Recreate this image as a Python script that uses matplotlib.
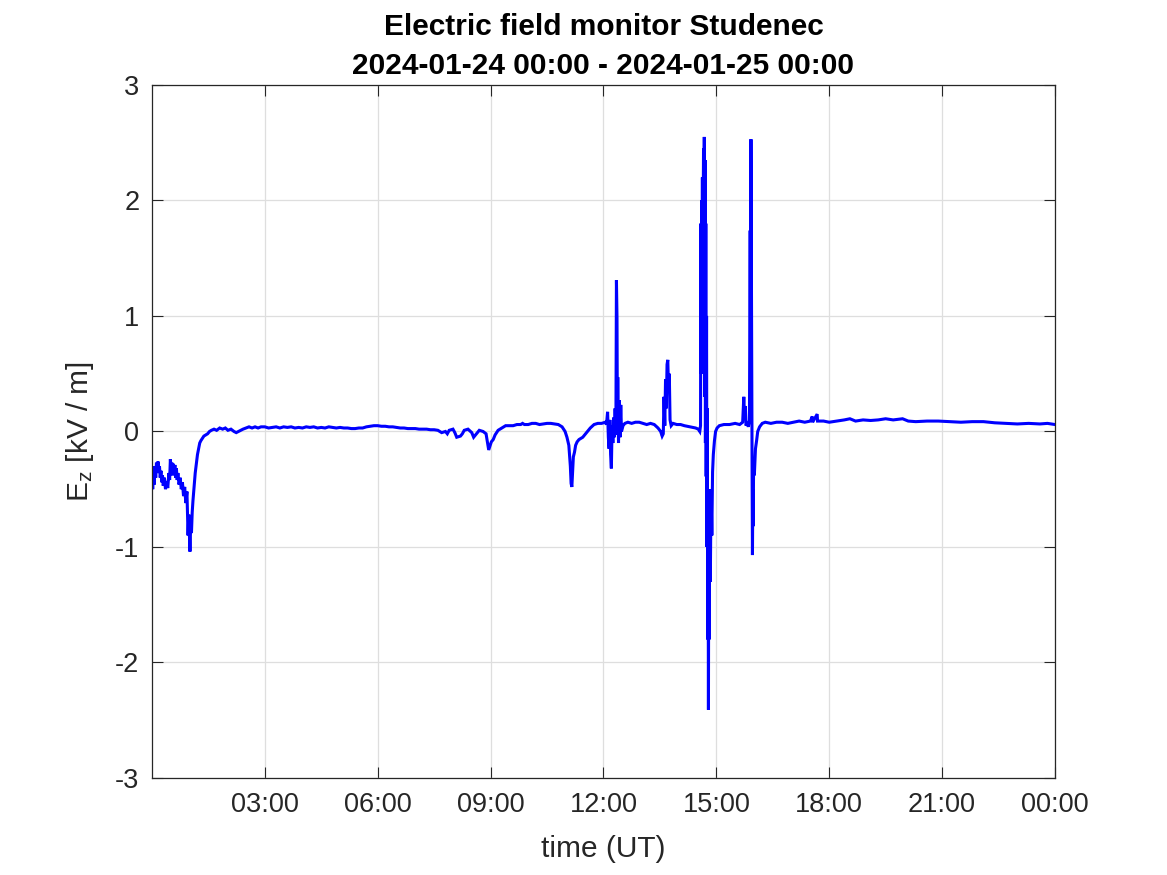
import matplotlib
matplotlib.use("Agg")
import matplotlib.pyplot as plt

plt.rcParams['font.family'] = ['Liberation Sans', 'DejaVu Sans']
plt.rcParams['mathtext.fontset'] = 'custom'
plt.rcParams['mathtext.rm'] = 'Liberation Sans'
plt.rcParams['mathtext.it'] = 'Liberation Sans'

title_lines = ["Electric field monitor Studenec", "2024-01-24 00:00 - 2024-01-25 00:00"]
x_label = "time (UT)"
y_label = r"E$_\mathrm{z}$ [kV / m]"
x_ticks = [3, 6, 9, 12, 15, 18, 21, 24]
x_tick_labels = ["03:00", "06:00", "09:00", "12:00", "15:00", "18:00", "21:00", "00:00"]
y_ticks = [-3, -2, -1, 0, 1, 2, 3]

# time in hours (UT) since 2024-01-24 00:00
t_hours = [
    0.00, 0.02, 0.04, 0.06, 0.08, 0.10, 0.12, 0.14, 0.16, 0.18, 0.20, 0.22, 0.24, 0.26, 0.28, 0.30,
    0.33, 0.36, 0.39, 0.42, 0.45, 0.47, 0.49, 0.51, 0.53, 0.55, 0.57, 0.59, 0.61, 0.63, 0.65, 0.67,
    0.69, 0.72, 0.75, 0.78, 0.81, 0.84, 0.87, 0.90, 0.93, 0.96, 0.98, 1.01, 1.03, 1.05, 1.07, 1.09,
    1.11, 1.13, 1.15, 1.18, 1.21, 1.24, 1.27, 1.30, 1.34, 1.38, 1.43, 1.48, 1.53, 1.58, 1.65, 1.72,
    1.80, 1.88, 1.95, 2.02, 2.10, 2.18, 2.24, 2.30, 2.36, 2.42, 2.50, 2.58, 2.66, 2.74, 2.82, 2.90,
    3.00, 3.10, 3.20, 3.30, 3.40, 3.50, 3.60, 3.70, 3.80, 3.90, 4.00, 4.10, 4.20, 4.30, 4.40, 4.50,
    4.60, 4.70, 4.80, 4.90, 5.00, 5.10, 5.20, 5.30, 5.40, 5.50, 5.60, 5.70, 5.80, 5.90, 6.00, 6.10,
    6.20, 6.30, 6.40, 6.50, 6.60, 6.70, 6.80, 6.90, 7.00, 7.10, 7.20, 7.30, 7.40, 7.50, 7.60, 7.70,
    7.80, 7.85, 7.90, 8.00, 8.05, 8.10, 8.20, 8.25, 8.30, 8.40, 8.50, 8.55, 8.60, 8.70, 8.80, 8.88,
    8.92, 8.95, 8.98, 9.02, 9.07, 9.12, 9.20, 9.30, 9.40, 9.50, 9.60, 9.70, 9.80, 9.85, 9.90, 10.00,
    10.10, 10.20, 10.30, 10.40, 10.50, 10.60, 10.70, 10.80, 10.90, 10.98, 11.03, 11.08, 11.12, 11.14, 11.16, 11.18,
    11.20, 11.23, 11.26, 11.30, 11.35, 11.40, 11.45, 11.55, 11.65, 11.75, 11.85, 11.95, 12.05, 12.08, 12.11, 12.13,
    12.15, 12.17, 12.19, 12.21, 12.23, 12.25, 12.27, 12.29, 12.31, 12.33, 12.345, 12.36, 12.37, 12.38, 12.40, 12.42,
    12.44, 12.46, 12.48, 12.52, 12.57, 12.65, 12.75, 12.85, 12.95, 13.05, 13.15, 13.25, 13.35, 13.45, 13.52, 13.56,
    13.59, 13.61, 13.63, 13.65, 13.67, 13.69, 13.71, 13.73, 13.75, 13.77, 13.80, 13.85, 13.95, 14.05, 14.15, 14.30,
    14.45, 14.52, 14.56, 14.58, 14.59, 14.60, 14.61, 14.62, 14.63, 14.64, 14.65, 14.66, 14.67, 14.68, 14.69, 14.70,
    14.71, 14.72, 14.73, 14.74, 14.75, 14.76, 14.77, 14.78, 14.79, 14.80, 14.81, 14.82, 14.84, 14.86, 14.88, 14.90,
    14.92, 14.95, 14.98, 15.02, 15.08, 15.20, 15.35, 15.50, 15.62, 15.70, 15.73, 15.75, 15.77, 15.79, 15.82, 15.85,
    15.88, 15.90, 15.91, 15.92, 15.93, 15.94, 15.95, 15.96, 15.97, 15.98, 15.99, 16.01, 16.04, 16.07, 16.10, 16.15,
    16.22, 16.30, 16.45, 16.60, 16.75, 16.90, 17.05, 17.20, 17.35, 17.50, 17.55, 17.56, 17.68, 17.69, 17.85, 18.00,
    18.20, 18.40, 18.55, 18.70, 18.90, 19.10, 19.30, 19.50, 19.70, 19.95, 20.10, 20.30, 20.60, 20.90, 21.20, 21.50,
    21.80, 22.10, 22.40, 22.70, 23.00, 23.30, 23.60, 23.80, 24.00,
]

# vertical electric field in kV/m
ez_kv = [
    -0.38, -0.50, -0.36, -0.46, -0.30, -0.40, -0.27, -0.36, -0.26, -0.34, -0.30, -0.40, -0.34, -0.44, -0.38, -0.47,
    -0.40, -0.50, -0.43, -0.49, -0.36, -0.42, -0.24, -0.33, -0.27, -0.38, -0.28, -0.36, -0.29, -0.40, -0.32, -0.42,
    -0.36, -0.46, -0.40, -0.50, -0.44, -0.56, -0.48, -0.62, -0.52, -0.90, -0.72, -1.04, -0.80, -0.88, -0.70, -0.60,
    -0.52, -0.44, -0.36, -0.28, -0.20, -0.15, -0.10, -0.08, -0.06, -0.04, -0.03, -0.02, 0.00, 0.01, 0.02, 0.01,
    0.03, 0.02, 0.03, 0.01, 0.02, 0.00, -0.01, 0.00, 0.01, 0.02, 0.03, 0.04, 0.03, 0.04, 0.03, 0.04,
    0.04, 0.03, 0.035, 0.04, 0.03, 0.04, 0.035, 0.04, 0.03, 0.035, 0.03, 0.04, 0.035, 0.04, 0.03, 0.035,
    0.03, 0.04, 0.035, 0.03, 0.035, 0.03, 0.03, 0.025, 0.025, 0.03, 0.03, 0.04, 0.045, 0.05, 0.05, 0.045,
    0.045, 0.04, 0.04, 0.035, 0.03, 0.03, 0.025, 0.025, 0.025, 0.02, 0.02, 0.02, 0.015, 0.015, 0.01, -0.01,
    0.00, -0.02, 0.01, 0.02, -0.01, -0.05, -0.04, -0.02, 0.01, 0.02, -0.01, -0.05, -0.03, 0.01, 0.00, -0.02,
    -0.10, -0.16, -0.13, -0.09, -0.07, -0.03, 0.01, 0.03, 0.05, 0.05, 0.05, 0.06, 0.06, 0.07, 0.06, 0.06,
    0.07, 0.07, 0.06, 0.065, 0.07, 0.07, 0.065, 0.06, 0.04, 0.00, -0.05, -0.12, -0.30, -0.45, -0.48, -0.35,
    -0.22, -0.18, -0.12, -0.09, -0.07, -0.06, -0.05, -0.01, 0.03, 0.06, 0.07, 0.07, 0.08, 0.06, 0.17, -0.05,
    -0.15, 0.10, -0.20, -0.32, 0.05, -0.10, 0.12, -0.05, 0.20, -0.03, 1.31, 0.98, 0.10, 0.47, -0.10, 0.27,
    -0.05, 0.23, 0.00, 0.05, 0.07, 0.08, 0.07, 0.08, 0.08, 0.07, 0.06, 0.07, 0.06, 0.03, 0.00, -0.04,
    -0.02, 0.30, 0.05, 0.45, 0.20, 0.58, 0.62, 0.35, 0.50, 0.10, 0.05, 0.07, 0.06, 0.06, 0.05, 0.04,
    0.03, 0.02, 0.00, 0.05, 1.80, 0.50, 2.00, 1.20, 2.20, 0.60, 1.90, 2.45, 1.00, 2.55, 0.30, 2.35,
    -0.10, 1.80, -0.39, 1.00, -1.00, 0.20, -1.80, -0.50, -2.41, -0.70, -1.80, -0.60, -1.30, -0.50, -0.90, -0.35,
    -0.20, -0.08, 0.00, 0.03, 0.05, 0.06, 0.06, 0.07, 0.06, 0.08, 0.30, 0.12, 0.22, 0.05, 0.08, 0.04,
    0.10, 1.74, 0.60, 2.53, 1.50, 0.59, -0.30, -1.07, -0.50, -0.82, -0.30, -0.38, -0.15, -0.08, 0.00, 0.04,
    0.07, 0.08, 0.07, 0.08, 0.08, 0.07, 0.08, 0.09, 0.08, 0.09, 0.13, 0.08, 0.15, 0.09, 0.09, 0.08,
    0.09, 0.10, 0.11, 0.09, 0.10, 0.095, 0.10, 0.11, 0.10, 0.11, 0.09, 0.085, 0.09, 0.09, 0.085, 0.08,
    0.085, 0.085, 0.075, 0.07, 0.065, 0.07, 0.065, 0.07, 0.06,
]

fig = plt.figure(figsize=(11.67, 8.75), dpi=100)
ax = fig.add_axes([0.1302, 0.1109, 0.7738, 0.7920])
ax.plot(t_hours, ez_kv, color=(0, 0, 1), linewidth=2.2, solid_joinstyle='miter')

ax.set_xlim(0, 24)
ax.set_ylim(-3, 3)
ax.set_xticks(x_ticks)
ax.set_xticklabels(x_tick_labels)
ax.set_yticks(y_ticks)
ax.set_yticklabels([str(v) for v in y_ticks])
ax.tick_params(direction='in', length=8, width=0.8, top=True, right=True,
               labelsize=19.5, colors='#262626', pad=10)
ax.tick_params(axis='y', pad=9)
ax.grid(True, color='#dedede', linewidth=0.9)
ax.set_axisbelow(True)
for s in ax.spines.values():
    s.set_color('#262626')
    s.set_linewidth(0.9)

ax.set_xlabel(x_label, fontsize=21.5, color='#262626', labelpad=12)
ax.set_ylabel(y_label, fontsize=21.5, color='#262626', labelpad=14)
ax.set_title("\n".join(title_lines), fontsize=21.5, fontweight='bold', pad=8, linespacing=1.5)

fig.savefig("out.png", dpi=100)
